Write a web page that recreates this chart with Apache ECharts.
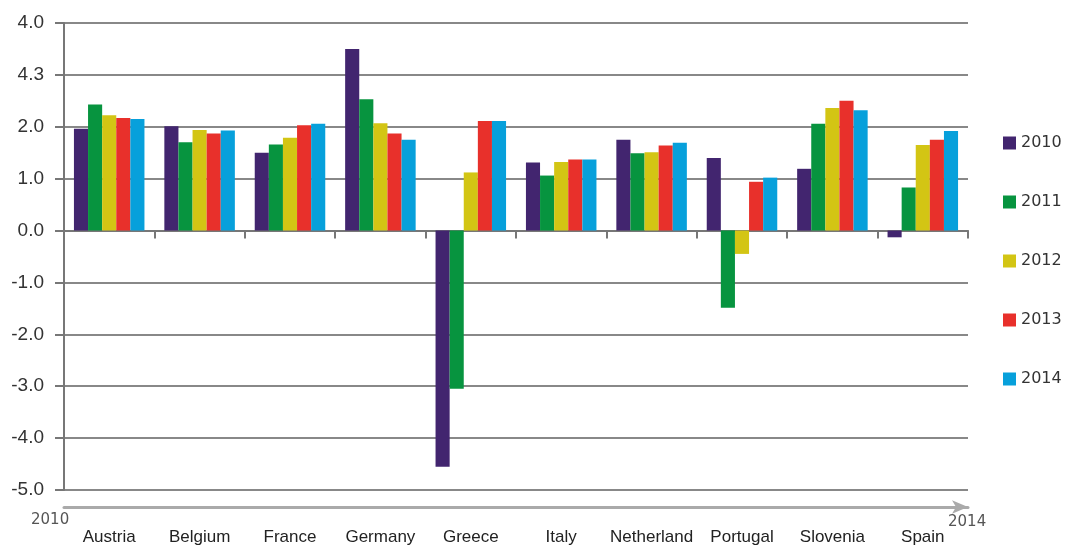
<!DOCTYPE html>
<html>
<head>
<meta charset="utf-8">
<script src="https://cdn.jsdelivr.net/npm/echarts@6/dist/echarts.min.js"></script>
<style>html,body{margin:0;padding:0;background:#fff}#c{width:1070px;height:546px}</style>
</head>
<body>
<div id="c"></div>
<script>
const categories = ['Austria','Belgium','France','Germany','Greece','Italy','Netherland','Portugal','Slovenia','Spain'];
const years = ['2010','2011','2012','2013','2014'];
const s2010 = [1.96, 2.01, 1.50, 3.50, -4.55, 1.31, 1.75, 1.40, 1.19, -0.13];
const s2011 = [2.43, 1.70, 1.66, 2.53, -3.05, 1.06, 1.49, -1.49, 2.06, 0.83];
const s2012 = [2.22, 1.94, 1.79, 2.07, 1.12, 1.32, 1.51, -0.45, 2.36, 1.65];
const s2013 = [2.17, 1.87, 2.03, 1.87, 2.11, 1.37, 1.64, 0.94, 2.50, 1.75];
const s2014 = [2.15, 1.93, 2.06, 1.75, 2.11, 1.37, 1.69, 1.02, 2.32, 1.92];
const yTickLabels = {'4':'4.0','3':'4.3','2':'2.0','1':'1.0','0':'0.0','-1':'-1.0','-2':'-2.0','-3':'-3.0','-4':'-4.0','-5':'-5.0'};
const axisStart = '2010', axisEnd = '2014';
const colors = ['#42256f','#07943f','#d3c514','#e8302b','#07a0db'];
const seriesData = [s2010, s2011, s2012, s2013, s2014];

const chart = echarts.init(document.getElementById('c'));
chart.setOption({
  animation: false,
  color: colors,
  textStyle: {fontFamily: 'Liberation Sans, Arial, sans-serif'},
  grid: {left: 64, right: 102, top: 23, bottom: 56},
  legend: {
    orient: 'vertical', left: 998, top: 130, itemGap: 43,
    itemWidth: 13, itemHeight: 13, icon: 'rect',
    textStyle: {fontSize: 16, color: '#333', fontFamily: 'DejaVu Sans, sans-serif'},
    data: years
  },
  xAxis: [{
    type: 'category', data: categories,
    axisLine: {onZero: true, lineStyle: {color: '#777', width: 2}},
    axisTick: {show: true, length: 8, inside: false, lineStyle: {color: '#777', width: 2}},
    axisLabel: {show: false},
    splitLine: {show: false}
  }, {
    type: 'category', data: categories, position: 'bottom', offset: 17,
    axisLine: {show: true, onZero: false, symbol: ['none','arrow'], symbolSize: [10, 16],
      lineStyle: {color: '#aaa', width: 3}},
    axisTick: {show: false},
    axisLabel: {show: true, margin: 22, fontSize: 17, color: '#222', interval: 0}
  }],
  yAxis: {
    type: 'value', min: -5, max: 4, interval: 1,
    axisLine: {show: true, lineStyle: {color: '#777', width: 2}},
    axisTick: {show: true, length: 9, lineStyle: {color: '#777', width: 2}},
    axisLabel: {fontSize: 19, color: '#333', margin: 20,
      formatter: v => yTickLabels[String(v)] ?? String(v)},
    splitLine: {show: true, lineStyle: {color: '#888', width: 2}}
  },
  series: years.map((y, i) => ({
    name: y, type: 'bar', data: seriesData[i],
    barGap: '0%', barCategoryGap: '22%',
    itemStyle: {color: colors[i]}
  })),
  graphic: [
    {type: 'text', left: 31, top: 513, style: {text: axisStart, fontSize: 15, fill: '#555', fontFamily: 'DejaVu Sans, sans-serif'}},
    {type: 'text', left: 948, top: 515, style: {text: axisEnd, fontSize: 15, fill: '#555', fontFamily: 'DejaVu Sans, sans-serif'}}
  ]
});
</script>
</body>
</html>
